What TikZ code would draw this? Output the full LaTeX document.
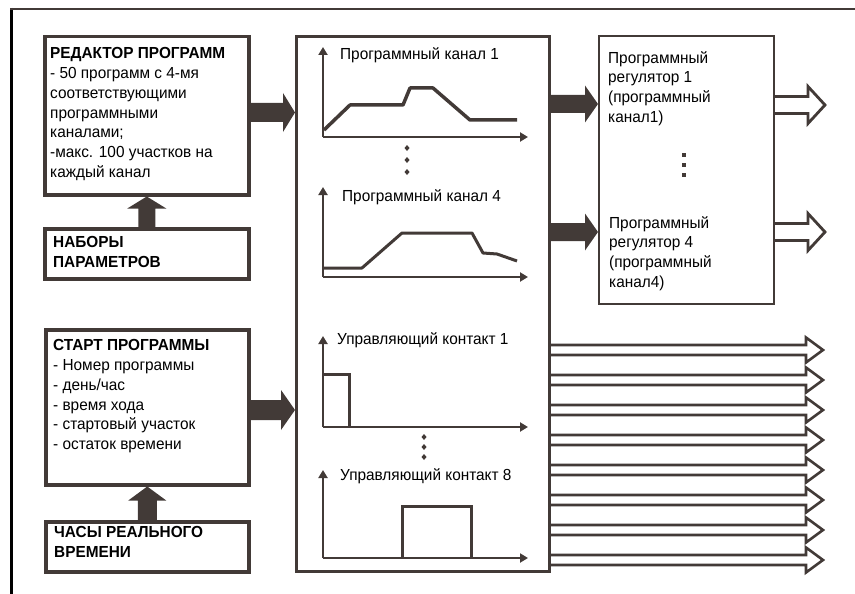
\documentclass[tikz,border=0pt]{standalone}
\usepackage{fontspec}
\setmainfont{Liberation Sans}[FakeStretch=0.96]
\usetikzlibrary{calc,arrows.meta}
\definecolor{dark}{RGB}{66,58,55}
\newcommand\fatH[5]{\fill[dark] ($(#1)+(0,-#3)$) -- ($(#2)+(-#5,-#3)$) -- ($(#2)+(-#5,-#4)$) -- (#2) -- ($(#2)+(-#5,#4)$) -- ($(#2)+(-#5,#3)$) -- ($(#1)+(0,#3)$) -- cycle;}
\newcommand\fatV[5]{\fill[dark] ($(#1)+(-#3,0)$) -- ($(#2)+(-#3,#5)$) -- ($(#2)+(-#4,#5)$) -- (#2) -- ($(#2)+(#4,#5)$) -- ($(#2)+(#3,#5)$) -- ($(#1)+(#3,0)$) -- cycle;}
\newcommand\hollowH[6]{\draw[dark,line width=#6,line join=miter] ($(#1)+(0,-#3)$) -- ($(#2)+(-#5,-#3)$) -- ($(#2)+(-#5,-#4)$) -- (#2) -- ($(#2)+(-#5,#4)$) -- ($(#2)+(-#5,#3)$) -- ($(#1)+(0,#3)$);}
\tikzset{
  txt/.style={anchor=north west,inner sep=0pt,align=left,font=\fontsize{16}{19.9}\selectfont,text=black},
  bold/.style={txt,font=\fontsize{16}{19.9}\selectfont\bfseries},
  box/.style={draw=dark,line width=3.5pt,anchor=north west,inner sep=0pt},
  axis/.style={dark,line width=2.5pt,-{Triangle[width=9pt,length=8pt]}},
  curve/.style={dark,line width=3.5pt,line join=round},
  pulse/.style={dark,line width=3pt,line join=miter}
}
\begin{document}
\begin{tikzpicture}[x=1pt,y=-1pt]
\useasboundingbox (0,0) rectangle (855,594);
% outer frame
\draw[black,line width=3pt] (11.5,8) -- (11.5,594);
\draw[dark,line width=2.5pt] (10,9) -- (855,9);
% boxes
\node[box,minimum width=204pt,minimum height=158pt] (editor) at (43,35) {};
\node[box,minimum width=204pt,minimum height=50pt] (nabory) at (43,227) {};
\node[box,minimum width=203pt,minimum height=155pt] (start) at (44,328) {};
\node[box,minimum width=203pt,minimum height=50pt] (chasy) at (44,520) {};
\node[box,line width=3pt,minimum width=253pt,minimum height=535pt] (central) at (295,35) {};
\node[box,line width=2.2pt,minimum width=175pt,minimum height=268pt] (reg) at (598,35) {};
% texts
\node[txt] (teditor) at (50,47) {\textbf{РЕДАКТОР ПРОГРАММ}\\- 50 программ с 4-мя\\соответствующими\\программными\\каналами;\\-макс. 100 участков на\\каждый канал};
\node[bold] (tnabory) at (53,236) {НАБОРЫ\\ПАРАМЕТРОВ};
\node[txt] (tstart) at (53,339) {\textbf{СТАРТ ПРОГРАММЫ}\\- Номер программы\\- день/час\\- время хода\\- стартовый участок\\- остаток времени};
\node[bold] (tchasy) at (54,526) {ЧАСЫ РЕАЛЬНОГО\\ВРЕМЕНИ};
\node[txt] (treg1) at (608,51) {Программный\\регулятор 1\\(программный\\канал1)};
\node[txt] (treg4) at (609,216) {Программный\\регулятор 4\\(программный\\канал4)};
\node[txt] (tch1) at (340,47) {Программный канал 1};
\node[txt] (tch4) at (342,189) {Программный канал 4};
\node[txt] (tk1) at (337,332) {Управляющий контакт 1};
\node[txt] (tk8) at (340,468) {Управляющий контакт 8};
% thick arrows
\coordinate (a1s) at (editor.east |- 0,112.5);
\coordinate (a1e) at (central.west |- 0,112.5);
\fatH{a1s}{a1e}{9.5}{19.5}{12}
\fatV{nabory.north}{editor.south}{8.5}{19.5}{12}
\coordinate (a3s) at (start.east |- 0,410);
\coordinate (a3e) at (central.west |- 0,410);
\fatH{a3s}{a3e}{10}{20}{14}
\fatV{chasy.north}{start.south}{9.5}{19}{14}
\coordinate (a5s) at (central.east |- 0,104);
\coordinate (a5e) at (reg.west |- 0,104);
\fatH{a5s}{a5e}{9}{18.5}{13}
\coordinate (a6s) at (central.east |- 0,232);
\coordinate (a6e) at (reg.west |- 0,232);
\fatH{a6s}{a6e}{9}{18.5}{13}
% hollow outputs of regulator
\coordinate (h1s) at (reg.east |- 0,105);
\coordinate (h1e) at (825,105);
\hollowH{h1s}{h1e}{8.5}{18.5}{17}{2.8pt}
\coordinate (h2s) at (reg.east |- 0,232);
\coordinate (h2e) at (825,232);
\hollowH{h2s}{h2e}{8.5}{18.5}{17}{2.8pt}
% hollow outputs of contacts
\foreach \y [count=\i] in {350,380,410,440,470,500,530,560}{
  \coordinate (k\i s) at (central.east |- 0,\y);
  \coordinate (k\i e) at (823,\y);
  \hollowH{k\i s}{k\i e}{5}{12.5}{17}{2.6pt}
}
% chart 1
\draw[axis] (323,137) -- (323,47);
\draw[axis] (323,137) -- (528,137);
\draw[curve] (324,130) -- (350,105) -- (403,105) -- (410,88) -- (433,88) -- (470,120) -- (517,120);
% chart 4
\draw[axis] (323,277) -- (323,187);
\draw[axis] (323,277) -- (528,277);
\draw[curve,line width=3pt] (324,268) -- (362,268) -- (402,233) -- (472,233) -- (483,253) -- (497,254) -- (517,261);
% contact 1
\draw[axis] (323,427) -- (323,336);
\draw[axis] (323,427) -- (528,427);
\draw[pulse] (323,374) -- (349,374) -- (349,427);
% contact 8
\draw[axis] (323,558) -- (323,470);
\draw[axis] (323,558) -- (528,558);
\draw[pulse] (402,558) -- (402,506) -- (471,506) -- (471,558);
% dots
\foreach \y in {148,160,172}{\fill[dark] (407,\y-3) -- (409.5,\y) -- (407,\y+3) -- (404.5,\y) -- cycle;}
\foreach \y in {437,447,457}{\fill[dark] (424,\y-3) -- (426.5,\y) -- (424,\y+3) -- (421.5,\y) -- cycle;}
\foreach \y in {155,165,175}{\fill[dark] (682,\y-2) rectangle (686,\y+2);}
\end{tikzpicture}
\end{document}
